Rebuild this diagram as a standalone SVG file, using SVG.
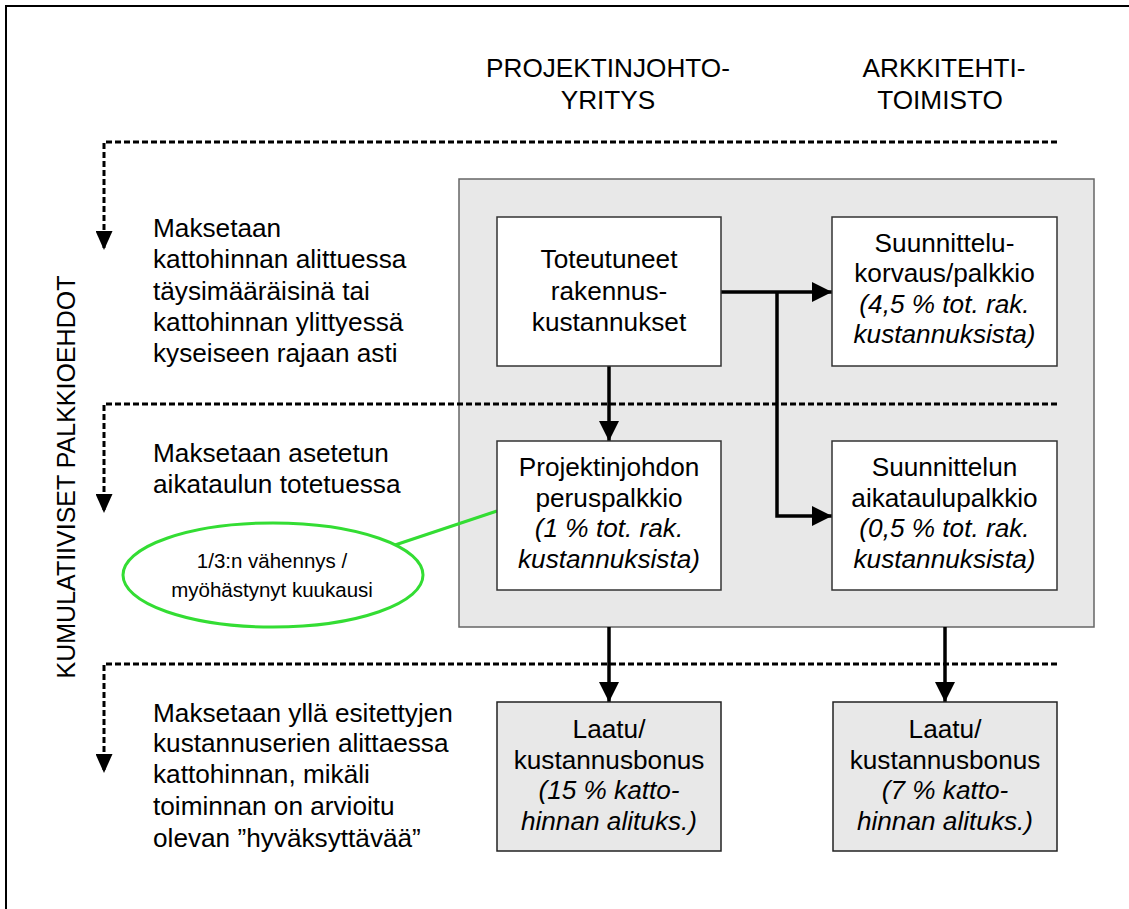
<svg xmlns="http://www.w3.org/2000/svg" width="1129" height="909" viewBox="0 0 1129 909">
  <style>
    text { font-family: "Liberation Sans", Arial, sans-serif; fill: #000; }
    .t { font-size: 26.2px; }
    .c { font-size: 26.2px; text-anchor: middle; }
    .side { font-size: 25px; text-anchor: middle; }
    .i { font-style: italic; }
    .small { font-size: 20.5px; text-anchor: middle; }
    .box { fill: #fff; stroke: #333; stroke-width: 1.5; }
    .gbox { fill: #e8e8e8; stroke: #222; stroke-width: 1.5; }
    .panel { fill: #e8e8e8; stroke: #666; stroke-width: 1.5; }
    .dots { fill: none; stroke: #000; stroke-width: 3; stroke-dasharray: 6 3; }
    .conn { fill: none; stroke: #000; stroke-width: 3.5; }
  </style>
  <defs>
    <marker id="arrow" viewBox="0 0 20 20" refX="20" refY="10" markerWidth="20" markerHeight="20" markerUnits="userSpaceOnUse" orient="auto">
      <path d="M0,0 L20,10 L0,20 Z" fill="#000"/>
    </marker>
    <marker id="darrow" viewBox="0 0 19 17" refX="19" refY="8.5" markerWidth="19" markerHeight="17" markerUnits="userSpaceOnUse" orient="auto">
      <path d="M0,0 L19,8.5 L0,17 Z" fill="#000"/>
    </marker>
  </defs>

  <rect width="1129" height="909" fill="#fff"/>
  <!-- page frame (top and left edges) -->
  <path d="M6,909 V6 H1129" fill="none" stroke="#000" stroke-width="2"/>

  <!-- column headings -->
  <g id="head-pm">
    <text class="c" x="608" y="77">PROJEKTINJOHTO-</text>
    <text class="c" x="608" y="109">YRITYS</text>
  </g>
  <g id="head-arch">
    <text class="c" x="944" y="77">ARKKITEHTI-</text>
    <text class="c" x="940" y="109">TOIMISTO</text>
  </g>

  <!-- side label -->
  <text id="side-label" class="side" transform="translate(75,477) rotate(-90)">KUMULATIIVISET PALKKIOEHDOT</text>

  <!-- shaded panel behind the fee boxes -->
  <rect id="panel" class="panel" x="459" y="179" width="635" height="448"/>

  <!-- tier separators -->
  <g id="tiers">
    <path class="dots" d="M1057,142 H104 V250" marker-end="url(#darrow)"/>
    <path class="dots" d="M1057,404 H104 V513" marker-end="url(#darrow)"/>
    <path class="dots" d="M1057,664 H104 V773" marker-end="url(#darrow)"/>
  </g>

  <!-- tier descriptions -->
  <g id="tier1-text">
    <text class="t" x="153" y="237">Maksetaan</text>
    <text class="t" x="153" y="268">kattohinnan alittuessa</text>
    <text class="t" x="153" y="300">täysimääräisinä tai</text>
    <text class="t" x="153" y="331">kattohinnan ylittyessä</text>
    <text class="t" x="153" y="362">kyseiseen rajaan asti</text>
  </g>
  <g id="tier2-text">
    <text class="t" x="153" y="462">Maksetaan asetetun</text>
    <text class="t" x="153" y="493">aikataulun totetuessa</text>
  </g>
  <g id="tier3-text">
    <text class="t" x="153" y="722">Maksetaan yllä esitettyjen</text>
    <text class="t" x="153" y="752">kustannuserien alittaessa</text>
    <text class="t" x="153" y="783">kattohinnan, mikäli</text>
    <text class="t" x="153" y="815">toiminnan on arvioitu</text>
    <text class="t" x="153" y="847">olevan ”hyväksyttävää”</text>
  </g>

  <!-- connectors -->
  <g id="connectors">
    <path class="conn" d="M721,292 H832" marker-end="url(#arrow)"/>
    <path class="conn" d="M777,292 V516 H832" marker-end="url(#arrow)"/>
    <path class="conn" d="M609,366 V441" marker-end="url(#arrow)"/>
    <path class="conn" d="M609,627 V702" marker-end="url(#arrow)"/>
    <path class="conn" d="M945,627 V702" marker-end="url(#arrow)"/>
    <path d="M395,545 L497,511" fill="none" stroke="#33dd33" stroke-width="3"/>
  </g>

  <g id="n-costs">
    <rect class="box" x="497" y="217" width="224" height="149"/>
    <text class="c" x="609" y="268">Toteutuneet</text>
    <text class="c" x="609" y="300">rakennus-</text>
    <text class="c" x="609" y="331">kustannukset</text>
  </g>

  <g id="n-design-fee">
    <rect class="box" x="832" y="217" width="225" height="149"/>
    <text class="c" x="944.5" y="252">Suunnittelu-</text>
    <text class="c" x="944.5" y="282">korvaus/palkkio</text>
    <text class="c i" x="944.5" y="313">(4,5 % tot. rak.</text>
    <text class="c i" x="944.5" y="343">kustannuksista)</text>
  </g>

  <g id="n-pm-fee">
    <rect class="box" x="497" y="441" width="224" height="149"/>
    <text class="c" x="609" y="476">Projektinjohdon</text>
    <text class="c" x="609" y="507">peruspalkkio</text>
    <text class="c i" x="609" y="537">(1 % tot. rak.</text>
    <text class="c i" x="609" y="568">kustannuksista)</text>
  </g>

  <g id="n-schedule-fee">
    <rect class="box" x="832" y="441" width="225" height="149"/>
    <text class="c" x="944.5" y="476">Suunnittelun</text>
    <text class="c" x="944.5" y="507">aikataulupalkkio</text>
    <text class="c i" x="944.5" y="537">(0,5 % tot. rak.</text>
    <text class="c i" x="944.5" y="568">kustannuksista)</text>
  </g>

  <g id="n-pm-bonus">
    <rect class="gbox" x="497" y="702" width="224" height="149"/>
    <text class="c" x="609" y="738">Laatu/</text>
    <text class="c" x="609" y="769">kustannusbonus</text>
    <text class="c i" x="609" y="799">(15 % katto-</text>
    <text class="c i" x="609" y="830">hinnan alituks.)</text>
  </g>

  <g id="n-arch-bonus">
    <rect class="gbox" x="833" y="702" width="224" height="149"/>
    <text class="c" x="945" y="738">Laatu/</text>
    <text class="c" x="945" y="769">kustannusbonus</text>
    <text class="c i" x="945" y="799">(7 % katto-</text>
    <text class="c i" x="945" y="830">hinnan alituks.)</text>
  </g>

  <g id="n-delay-note">
    <ellipse cx="273" cy="575" rx="150" ry="52" fill="#fff" stroke="#33dd33" stroke-width="3"/>
    <text class="small" x="272" y="568">1/3:n vähennys /</text>
    <text class="small" x="272" y="597">myöhästynyt kuukausi</text>
  </g>
</svg>
